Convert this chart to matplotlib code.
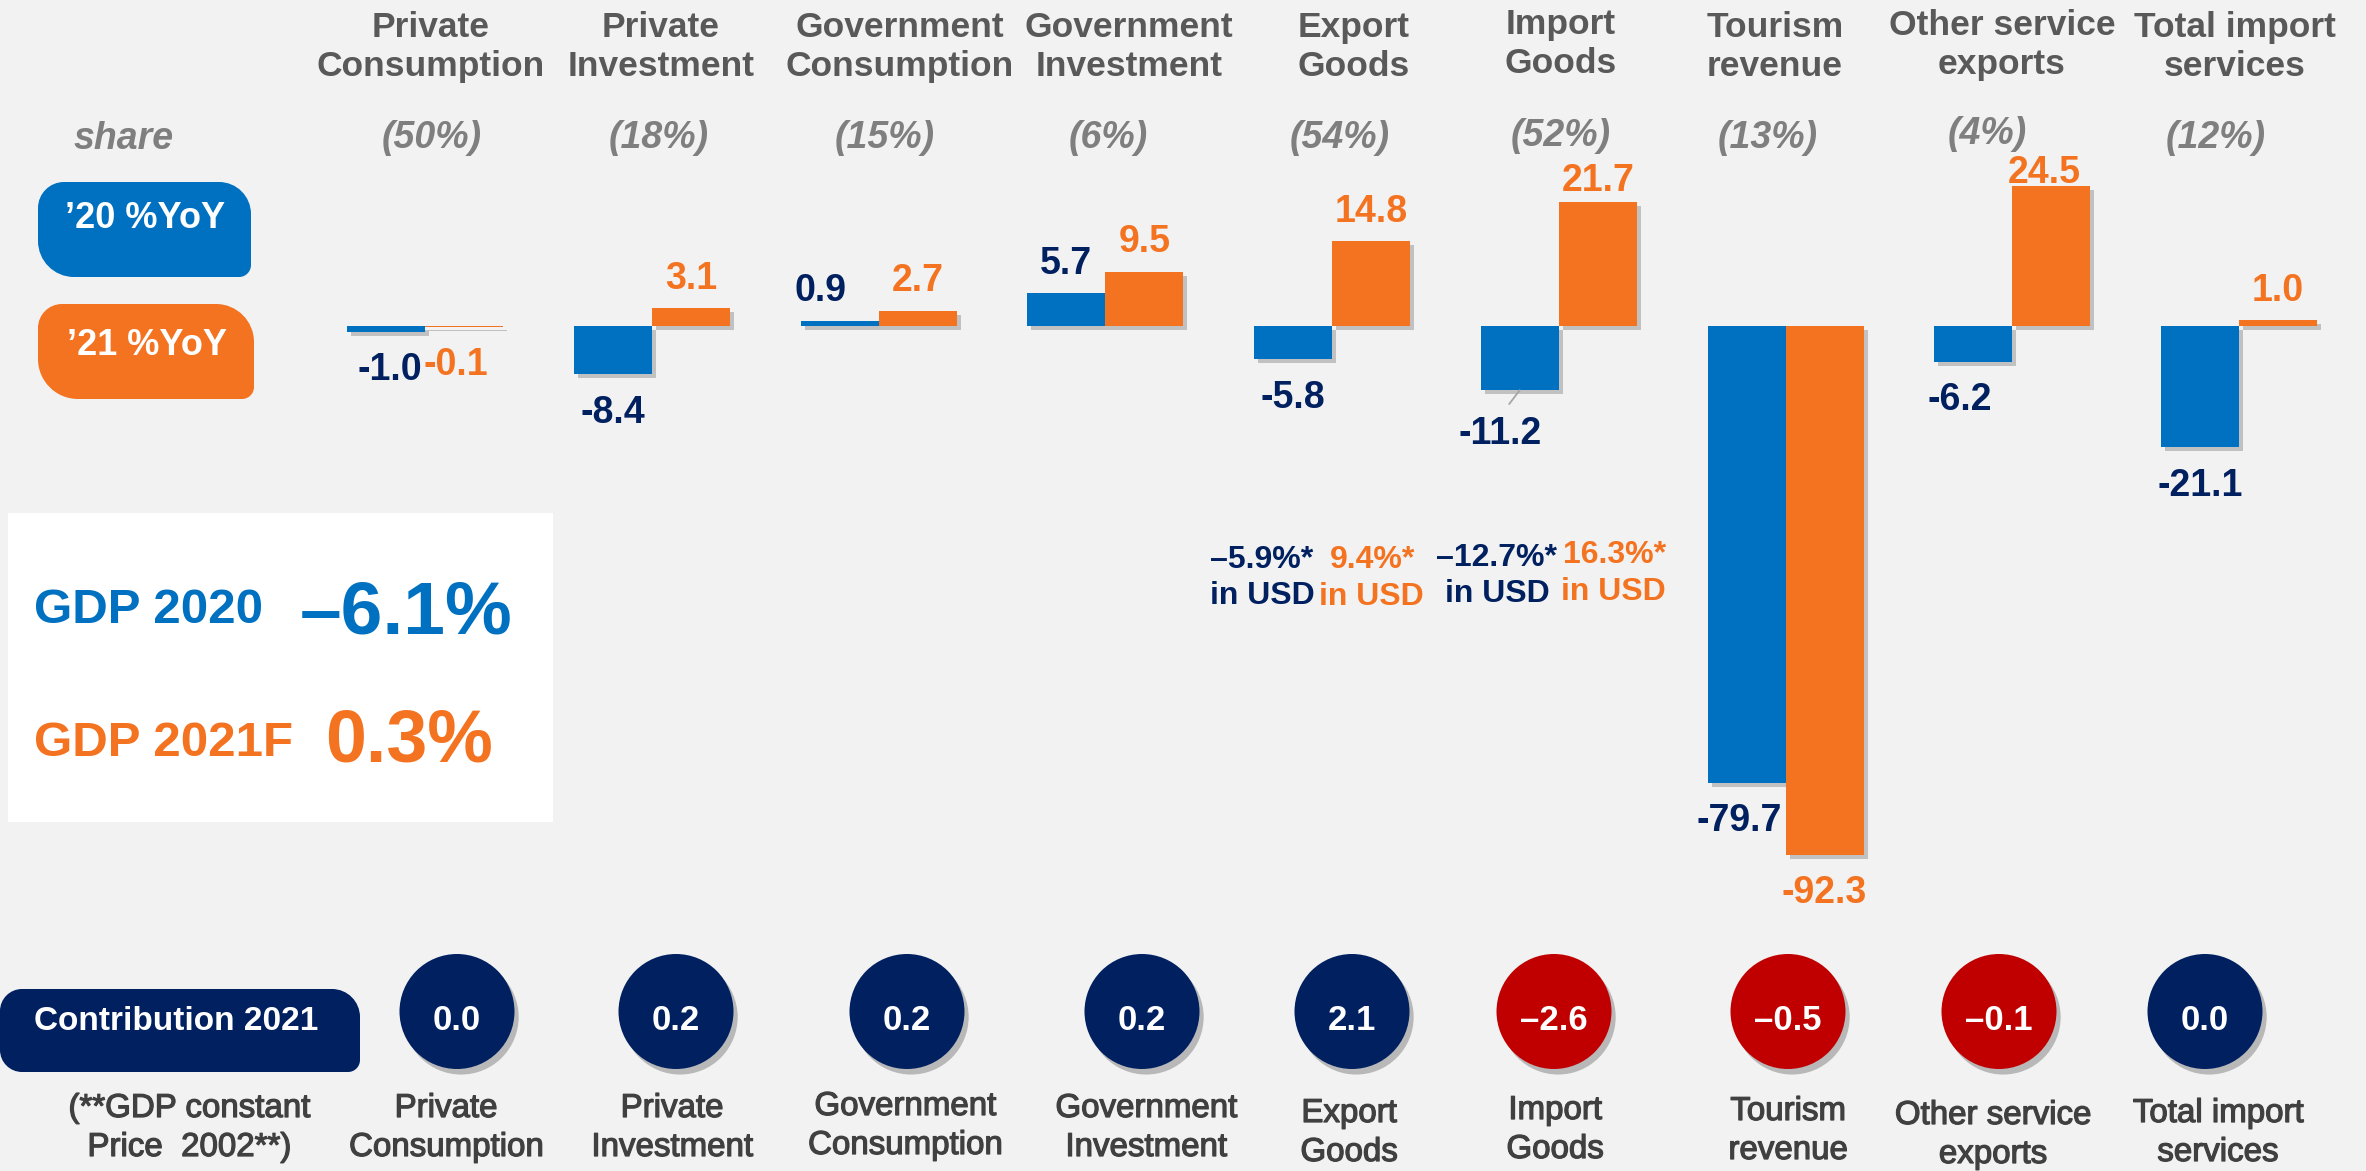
import numpy as np
import matplotlib
matplotlib.use("Agg")
import matplotlib.pyplot as plt
from matplotlib.patches import Circle, PathPatch, Rectangle
from matplotlib.path import Path
import matplotlib.patheffects as pe

# ---------------- data ----------------
categories = ["Private\nConsumption", "Private\nInvestment", "Government\nConsumption",
              "Government\nInvestment", "Export\nGoods", "Import\nGoods",
              "Tourism\nrevenue", "Other service\nexports", "Total import\nservices"]
shares = [50, 18, 15, 6, 54, 52, 13, 4, 12]
yoy_2020 = [-1.0, -8.4, 0.9, 5.7, -5.8, -11.2, -79.7, -6.2, -21.1]
yoy_2021 = [-0.1, 3.1, 2.7, 9.5, 14.8, 21.7, -92.3, 24.5, 1.0]
contrib_2021 = [0.0, 0.2, 0.2, 0.2, 2.1, -2.6, -0.5, -0.1, 0.0]
usd_categories = ["Export\nGoods", "Import\nGoods"]
usd_2020 = [-5.9, -12.7]
usd_2021 = [9.4, 16.3]
gdp_2020 = -6.1
gdp_2021f = 0.3

# ---------------- style ----------------
plt.rcParams["font.family"] = ["Liberation Sans", "DejaVu Sans"]
BG = "#F2F2F2"
BLUE = "#0070C0"
ORANGE = "#F47321"
NAVY = "#002060"
RED = "#C00000"
HEAD = "#595959"
SHARE = "#7F7F7F"
LAB = "#404040"

W, H = 2366, 1171
fig = plt.figure(figsize=(W / 100, H / 100), dpi=100, facecolor=BG)

# main bar axes (pixel-aligned scale)
GX0, GDX = 425.0, 226.75
ZERO_PY, PPU = 326.0, 5.73
BW = 78.0 / GDX
ax = fig.add_axes([0, 0, 1, 1])
ax.set_xlim(-GX0 / GDX, (W - GX0) / GDX)
ax.set_ylim((ZERO_PY - H) / PPU, ZERO_PY / PPU)
ax.axis("off")
ax.set_zorder(1)

x = np.arange(len(categories))
shadow = [pe.SimplePatchShadow(offset=(3, -3), shadow_rgbFace="#444444", alpha=0.28), pe.Normal()]
b1 = ax.bar(x - BW / 2, yoy_2020, BW, color=BLUE, zorder=3)
b2 = ax.bar(x + BW / 2, yoy_2021, BW, color=ORANGE, zorder=3)
for b in list(b1) + list(b2):
    b.set_path_effects(shadow)

nudge20 = {0: (3, 0), 2: (-14, 0), 6: (-5, 0), 7: (-10, 0)}
nudge21 = {0: (-6, 0), 5: (0, -6), 7: (-5, -12)}
for i, v in enumerate(yoy_2020):
    dx, dy = nudge20.get(i, (0, 0))
    oy = 14 if v >= 0 else -35
    kw = {}
    if i == 5:
        dx, oy = -14, -38.5
        kw = dict(arrowprops=dict(arrowstyle="-", color="#A6A6A6", lw=1.3,
                                  shrinkA=8, shrinkB=0, relpos=(0.5, 1.0)))
    ax.annotate(f"{v:.1f}", xy=(x[i] - BW / 2, v), xytext=(dx, oy + dy),
                textcoords="offset points", ha="center", va="baseline",
                fontsize=27, fontweight="bold", color=NAVY, zorder=5, **kw)
for i, v in enumerate(yoy_2021):
    dx, dy = nudge21.get(i, (0, 0))
    oy = 14 if v >= 0 else -35
    ax.annotate(f"{v:.1f}", xy=(x[i] + BW / 2, v), xytext=(dx, oy + dy),
                textcoords="offset points", ha="center", va="baseline",
                fontsize=27, fontweight="bold", color=ORANGE, zorder=5)

# ---------------- overlay (pixel coordinates) ----------------
ov = fig.add_axes([0, 0, 1, 1])
ov.set_xlim(0, W)
ov.set_ylim(H, 0)
ov.axis("off")
ov.patch.set_alpha(0)
ov.set_zorder(2)


def rbox(x0, y0, x1, y1, tl, tr, br, bl, color, z=2):
    k = 0.5523
    v = [(x0 + tl, y0), (x1 - tr, y0),
         (x1 - tr + k * tr, y0), (x1, y0 + tr - k * tr), (x1, y0 + tr),
         (x1, y1 - br),
         (x1, y1 - br + k * br), (x1 - br + k * br, y1), (x1 - br, y1),
         (x0 + bl, y1),
         (x0 + bl - k * bl, y1), (x0, y1 - bl + k * bl), (x0, y1 - bl),
         (x0, y0 + tl),
         (x0, y0 + tl - k * tl), (x0 + tl - k * tl, y0), (x0 + tl, y0),
         (x0 + tl, y0)]
    c = [Path.MOVETO, Path.LINETO,
         Path.CURVE4, Path.CURVE4, Path.CURVE4,
         Path.LINETO,
         Path.CURVE4, Path.CURVE4, Path.CURVE4,
         Path.LINETO,
         Path.CURVE4, Path.CURVE4, Path.CURVE4,
         Path.LINETO,
         Path.CURVE4, Path.CURVE4, Path.CURVE4,
         Path.CLOSEPOLY]
    ov.add_patch(PathPatch(Path(v, c), facecolor=color, edgecolor="none", zorder=z))


# header row
header_x = [431, 661, 900, 1129, 1354, 1561, 1775, 2002, 2235]
header_dy = [0, 0, 0, 0, 0, -3, 0, -2, 0]
for i, lab in enumerate(categories):
    l1, l2 = lab.split("\n")
    ov.text(header_x[i], 37 + header_dy[i], l1, ha="center", va="baseline",
            fontsize=25.5, fontweight="bold", color=HEAD)
    ov.text(header_x[i], 76 + header_dy[i], l2, ha="center", va="baseline",
            fontsize=25.5, fontweight="bold", color=HEAD)

# share row
share_x = [432, 659, 885, 1108, 1340, 1561, 1768, 1987, 2216]
share_base = [148, 148, 148, 148, 148, 146, 148, 144, 148]
ov.text(124, 149, "share", ha="center", va="baseline", fontsize=27,
        fontstyle="italic", fontweight="bold", color=SHARE)
for i, s in enumerate(shares):
    ov.text(share_x[i], share_base[i], f"({s}%)", ha="center", va="baseline", fontsize=27,
            fontstyle="italic", fontweight="bold", color=SHARE)

# legend boxes
rbox(38, 182, 251, 277, 26, 32, 12, 36, BLUE)
ov.text(145, 228, "\u201920 %YoY", ha="center", va="baseline", fontsize=26,
        fontweight="bold", color="white", zorder=3)
rbox(38, 304, 254, 399, 24, 38, 12, 40, ORANGE)
ov.text(147, 355, "\u201921 %YoY", ha="center", va="baseline", fontsize=26,
        fontweight="bold", color="white", zorder=3)

# GDP white box
ov.add_patch(Rectangle((8, 513), 545, 309, facecolor="white", edgecolor="none", zorder=1))
ov.text(34, 623, "GDP 2020", ha="left", va="baseline", fontsize=35.5,
        fontweight="bold", color=BLUE, zorder=3)
ov.text(300, 634, f"{gdp_2020:.1f}%".replace("-", "\u2013"), ha="left", va="baseline",
        fontsize=54, fontweight="bold", color=BLUE, zorder=3)
ov.text(34, 756, "GDP 2021F", ha="left", va="baseline", fontsize=35.5,
        fontweight="bold", color=ORANGE, zorder=3)
ov.text(325, 761, f"{gdp_2021f:.1f}%", ha="left", va="baseline",
        fontsize=53, fontweight="bold", color=ORANGE, zorder=3)

# USD notes
usd_x20 = [1262, 1497]
usd_x21 = [1373, 1615]
usd_y20 = [568, 566]
usd_y21 = [568, 563]
for j in range(len(usd_categories)):
    ov.text(usd_x20[j], usd_y20[j], f"{usd_2020[j]:.1f}%*".replace("-", "\u2013"),
            ha="center", va="baseline", fontsize=23, fontweight="bold", color=NAVY)
    ov.text(usd_x20[j], usd_y20[j] + 36, "in USD", ha="center", va="baseline",
            fontsize=23, fontweight="bold", color=NAVY)
    ov.text(usd_x21[j], usd_y21[j], f"{usd_2021[j]:.1f}%*",
            ha="center", va="baseline", fontsize=23, fontweight="bold", color=ORANGE)
    ov.text(usd_x21[j] - 2, usd_y21[j] + 37, "in USD", ha="center", va="baseline",
            fontsize=23, fontweight="bold", color=ORANGE)

# contribution row
thick = [pe.withStroke(linewidth=0.9, foreground=LAB)]
rbox(0, 989, 360, 1072, 22, 28, 12, 22, NAVY)
ov.text(176, 1030, "Contribution 2021", ha="center", va="baseline", fontsize=24,
        fontweight="bold", color="white", zorder=3)
ov.text(189, 1117, "(**GDP constant", ha="center", va="baseline", fontsize=23.8, color=LAB,
        path_effects=thick)
ov.text(189, 1156, "Price  2002**)", ha="center", va="baseline", fontsize=23.8, color=LAB,
        path_effects=thick)

circle_x = [457, 676, 907, 1142, 1352, 1554, 1788, 1999, 2205]
circ_shadow = [pe.SimplePatchShadow(offset=(3, -4), shadow_rgbFace="#333333", alpha=0.3), pe.Normal()]
for i, c in enumerate(contrib_2021):
    col = RED if c < 0 else NAVY
    circ = Circle((circle_x[i], 1011.5), 57.5, facecolor=col, edgecolor="none", zorder=2)
    circ.set_path_effects(circ_shadow)
    ov.add_patch(circ)
    ov.text(circle_x[i], 1030, f"{c:.1f}".replace("-", "\u2013"), ha="center", va="baseline",
            fontsize=25, fontweight="bold", color="white", zorder=3)

bottom_x = [446, 672, 905, 1146, 1349, 1555, 1788, 1993, 2218]
bottom_base = [1117, 1117, 1115, 1117, 1122, 1119, 1120, 1124, 1122]
for i, lab in enumerate(categories):
    l1, l2 = lab.split("\n")
    ov.text(bottom_x[i], bottom_base[i], l1, ha="center", va="baseline", fontsize=23.8,
            color=LAB, path_effects=thick)
    ov.text(bottom_x[i], bottom_base[i] + 39, l2, ha="center", va="baseline", fontsize=23.8,
            color=LAB, path_effects=thick)

fig.savefig("out.png", dpi=100, facecolor=BG)
